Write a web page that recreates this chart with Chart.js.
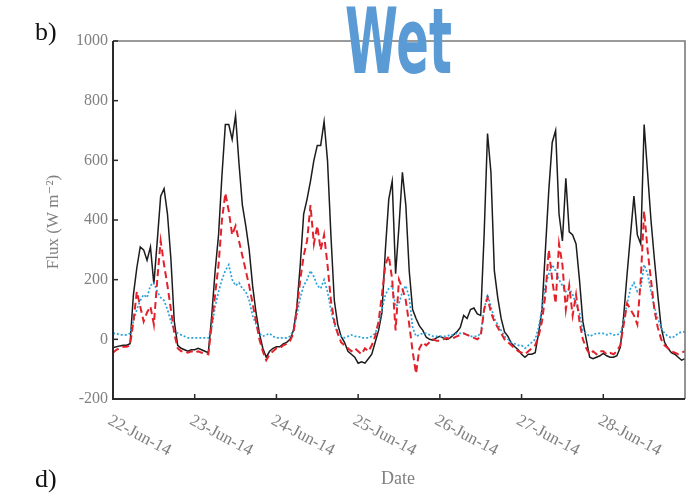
<!DOCTYPE html>
<html>
<head>
<meta charset="utf-8">
<title>Flux - Wet</title>
<script src="https://cdn.jsdelivr.net/npm/chart.js@4"></script>
<style>
    body { margin: 0; background: #ffffff; }
    #wrap { width: 700px; height: 493px; }
</style>
</head>
<body>
<div id="wrap"><canvas id="fluxChart" width="700" height="493"></canvas></div>
<script>
// Hourly flux values (W m-2), starting 22-Jun-14 00:00
const STEP_HOURS = 1;
const dayLabels = ['22-Jun-14', '23-Jun-14', '24-Jun-14', '25-Jun-14', '26-Jun-14', '27-Jun-14', '28-Jun-14'];
const yTickValues = [-200, 0, 200, 400, 600, 800, 1000];

// solid black trace
const solidSeries = [
    -27, -25, -22, -20, -20, -15, 150, 240, 310, 300, 265, 310, 185, 330, 480, 505, 420, 270, 60, -20, -30, -35, -40, -35,
    -35, -30, -35, -40, -45, 80, 230, 350, 550, 720, 720, 670, 750, 590, 450, 380, 300, 180, 90, 20, -30, -60, -40, -30,
    -25, -25, -15, -10, 0, 30, 110, 250, 420, 470, 530, 600, 650, 650, 730, 600, 350, 130, 50, 10, -10, -40, -50, -60,
    -80, -75, -80, -65, -50, -10, 30, 90, 300, 470, 530, 220, 380, 560, 450, 230, 100, 70, 45, 30, 7, 0, -3, 5,
    10, 5, 0, 5, 15, 25, 40, 80, 70, 100, 105, 85, 80, 350, 690, 560, 230, 140, 70, 25, 10, -13, -25, -35,
    -50, -60, -50, -50, -45, 20, 100, 300, 500, 660, 700, 420, 330, 540, 360, 350, 320, 200, 60, 0, -60, -65, -60, -55,
    -47, -55, -60, -60, -55, -27, 80, 220, 350, 480, 350, 320, 720, 560, 400, 270, 150, 40, -10, -30, -45, -50, -60, -70, -65
];

// red dashed trace
const dashedSeries = [
    -45, -35, -30, -25, -25, -20, 60, 160, 110, 60, 90, 110, 50, 200, 330, 250, 180, 100, 20, -30, -40, -40, -45, -40,
    -45, -40, -45, -45, -50, 50, 150, 250, 400, 490, 430, 350, 380, 330, 280, 230, 180, 120, 60, 0, -40, -70, -50, -40,
    -30, -30, -20, -15, -5, 20, 100, 200, 280, 330, 450, 320, 380, 300, 350, 250, 130, 60, 20, -10, -20, -30, -40, -30,
    -40, -50, -30, -40, -20, 10, 60, 150, 250, 280, 200, 30, 200, 170, 130, 50, -40, -115, -30, -10, -20, -10, 0, -5,
    -5, 0, 5, 0, 5, 10, 15, 20, 15, 10, 5, 0, 10, 100, 140, 90, 60, 40, 20, 0, -10, -20, -30, -40,
    -45, -50, -40, -30, -20, 10, 60, 150, 300, 200, 120, 320, 250, 100, 180, 80, 150, 60, 0, -30, -50, -40, -50, -40,
    -40, -50, -45, -50, -40, -20, 50, 120, 100, 80, 50, 200, 430, 300, 200, 100, 40, 0, -20, -30, -40, -45, -50, -45, -40
];

// blue dotted trace
const dottedSeries = [
    20, 20, 15, 15, 15, 20, 60, 100, 130, 150, 140, 180, 190, 160, 140, 130, 100, 60, 30, 20, 15, 10, 5, 5,
    5, 5, 5, 5, 5, 40, 110, 160, 200, 230, 250, 200, 180, 190, 170, 160, 130, 80, 50, 20, 10, 15, 20, 10,
    5, 5, 5, 5, 10, 30, 80, 140, 180, 200, 230, 210, 180, 170, 200, 160, 100, 50, 20, 10, 5, 10, 15, 10,
    10, 5, 5, 5, 10, 20, 50, 100, 150, 170, 180, 110, 120, 160, 180, 140, 40, 10, 15, 20, 20, 15, 10, 10,
    10, 10, 10, 15, 15, 20, 20, 20, 15, 10, 10, 10, 20, 100, 150, 110, 70, 50, 30, 10, 0, -10, -15, -20,
    -20, -30, -20, -10, 0, 40, 100, 180, 220, 250, 230, 200, 180, 160, 170, 150, 120, 90, 30, 20, 10, 15, 20, 20,
    20, 15, 20, 15, 15, 20, 60, 120, 170, 190, 160, 170, 250, 220, 160, 110, 70, 40, 20, 10, 5, 10, 20, 25, 25
];

function toPoints(values) {
    return values.map((v, i) => ({ x: i * STEP_HOURS, y: v }));
}

const SERIF = '"Liberation Serif", "DejaVu Serif", serif';

// Frame, inward ticks, tick labels and panel texts
const framePlugin = {
    id: 'framePlugin',
    afterDraw(chart) {
        const ctx = chart.ctx;
        const a = chart.chartArea;
        const x = chart.scales.x;
        const y = chart.scales.y;
        ctx.save();

        // top and right borders (lighter)
        ctx.strokeStyle = '#7a7a7a';
        ctx.lineWidth = 1.6;
        ctx.beginPath();
        ctx.moveTo(a.left, a.top);
        ctx.lineTo(a.right, a.top);
        ctx.lineTo(a.right, a.bottom);
        ctx.stroke();

        // left and bottom axes
        ctx.strokeStyle = '#2b2b2b';
        ctx.lineWidth = 2;
        ctx.beginPath();
        ctx.moveTo(a.left, a.top);
        ctx.lineTo(a.left, a.bottom);
        ctx.lineTo(a.right, a.bottom);
        ctx.stroke();

        // y ticks
        ctx.fillStyle = '#808080';
        ctx.font = '16px ' + SERIF;
        ctx.textAlign = 'right';
        ctx.textBaseline = 'middle';
        ctx.lineWidth = 1.5;
        yTickValues.forEach(v => {
            const py = y.getPixelForValue(v);
            ctx.beginPath();
            ctx.moveTo(a.left, py);
            ctx.lineTo(a.left + 5, py);
            ctx.stroke();
            ctx.fillText(String(v), a.left - 5, py);
        });

        // x ticks with slanted day labels
        ctx.textAlign = 'left';
        ctx.textBaseline = 'top';
        ctx.font = '17px ' + SERIF;
        dayLabels.forEach((label, i) => {
            const px = x.getPixelForValue(i * 24);
            ctx.beginPath();
            ctx.moveTo(px, a.bottom);
            ctx.lineTo(px, a.bottom - 5);
            ctx.stroke();
            ctx.save();
            ctx.translate(px, a.bottom + 13);
            ctx.rotate(28 * Math.PI / 180);
            ctx.fillText(label, 0, 0);
            ctx.restore();
        });

        // axis titles
        ctx.textAlign = 'center';
        ctx.textBaseline = 'middle';
        ctx.font = '18px ' + SERIF;
        ctx.fillText('Date', 398, 479);

        ctx.save();
        ctx.translate(54, 222);
        ctx.rotate(-Math.PI / 2);
        ctx.font = '17px ' + SERIF;
        ctx.fillText('Flux (W m\u207B\u00B2)', 0, 0);
        ctx.restore();

        // panel letters
        ctx.fillStyle = '#111111';
        ctx.font = '26px ' + SERIF;
        ctx.textAlign = 'left';
        ctx.textBaseline = 'alphabetic';
        ctx.fillText('b)', 35, 40);
        ctx.fillText('d)', 35, 487);

        // condensed heading
        ctx.fillStyle = '#5b9bd5';
        ctx.font = 'bold 90px "DejaVu Sans", sans-serif';
        const w = ctx.measureText('Wet').width;
        ctx.translate(345, 73);
        ctx.scale(107 / w, 1);
        ctx.fillText('Wet', 0, 0);

        ctx.restore();
    }
};

const ctx = document.getElementById('fluxChart').getContext('2d');
const fluxChart = new Chart(ctx, {
    type: 'line',
    data: {
        datasets: [
            {
                label: 'solid',
                data: toPoints(solidSeries),
                borderColor: '#1c1c1c',
                borderWidth: 1.5,
                order: 3
            },
            {
                label: 'dotted',
                data: toPoints(dottedSeries),
                borderColor: '#2aa2dc',
                borderWidth: 1.7,
                borderDash: [2, 2],
                order: 2
            },
            {
                label: 'dashed',
                data: toPoints(dashedSeries),
                borderColor: '#e3212b',
                borderWidth: 2,
                borderDash: [7, 4],
                order: 1
            }
        ]
    },
    options: {
        responsive: false,
        animation: false,
        layout: {
            padding: { left: 113, top: 41, right: 15, bottom: 94 }
        },
        elements: {
            point: { radius: 0 },
            line: { tension: 0 }
        },
        scales: {
            x: { type: 'linear', min: 0, max: 168, display: false },
            y: { min: -200, max: 1000, display: false }
        },
        plugins: {
            legend: { display: false },
            tooltip: { enabled: false }
        }
    },
    plugins: [framePlugin]
});
</script>
</body>
</html>
